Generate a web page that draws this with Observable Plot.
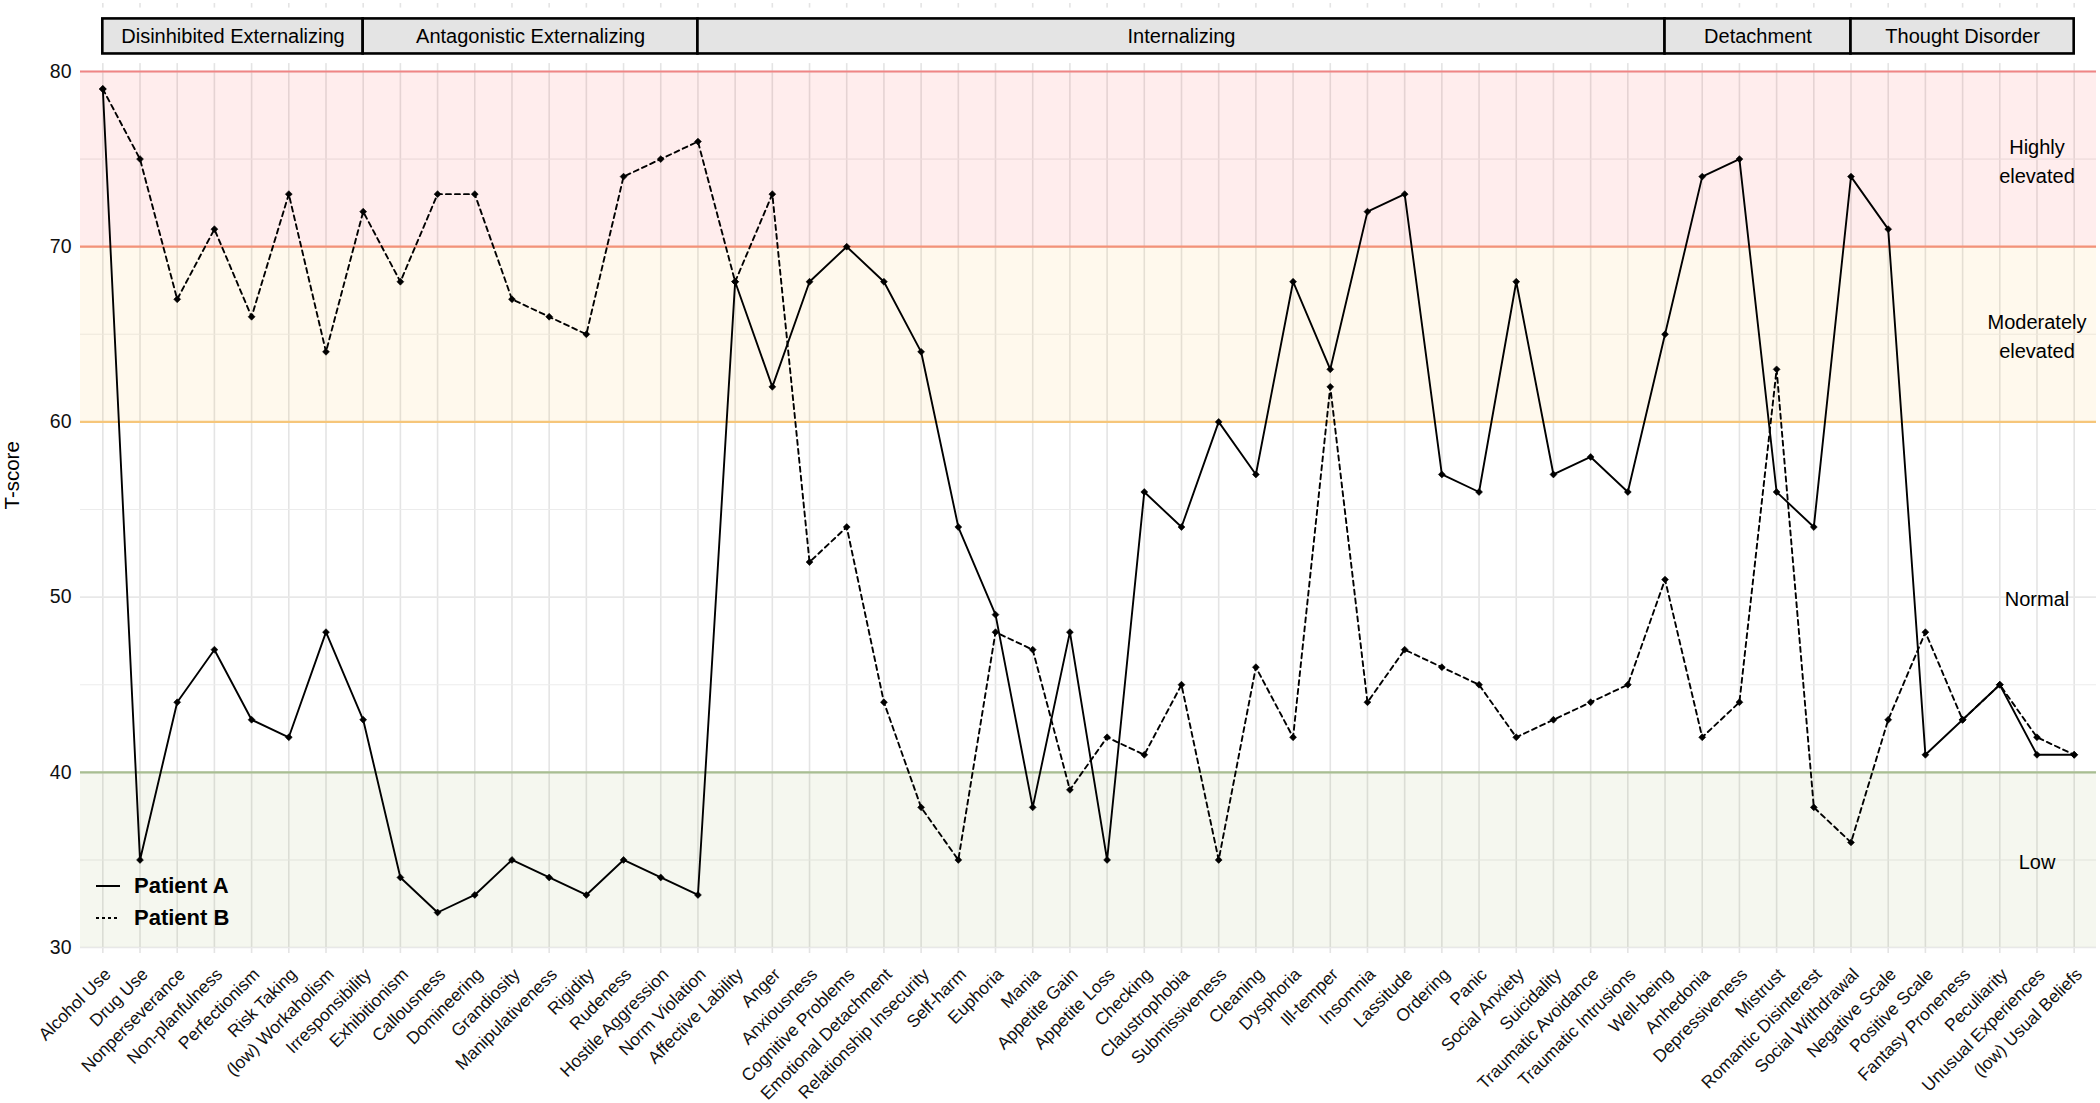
<!DOCTYPE html>
<html>
<head>
<meta charset="utf-8">
<script src="https://cdn.jsdelivr.net/npm/d3@7"></script>
<script src="https://cdn.jsdelivr.net/npm/@observablehq/plot@0.6"></script>
<style>
  body { margin: 0; background: #fff; }
  #wrap { position: relative; width: 2100px; height: 1103px; font-family: "Liberation Sans", Arial, Helvetica, sans-serif; }
  #legend { position: absolute; left: 96px; top: 870px; font-weight: bold; font-size: 22px; color: #000; }
  #legend .row { display: flex; align-items: center; height: 32px; }
  #legend svg { margin-right: 14px; }
</style>
</head>
<body>
<div id="wrap"></div>
<script>
// ---------- data ----------
const categories = [
  "Alcohol Use", "Drug Use", "Nonperseverance", "Non-planfulness", "Perfectionism", "Risk Taking",
  "(low) Workaholism", "Irresponsibility", "Exhibitionism", "Callousness", "Domineering", "Grandiosity",
  "Manipulativeness", "Rigidity", "Rudeness", "Hostile Aggression", "Norm Violation", "Affective Lability",
  "Anger", "Anxiousness", "Cognitive Problems", "Emotional Detachment", "Relationship Insecurity", "Self-harm",
  "Euphoria", "Mania", "Appetite Gain", "Appetite Loss", "Checking", "Claustrophobia", "Submissiveness",
  "Cleaning", "Dysphoria", "Ill-temper", "Insomnia", "Lassitude", "Ordering", "Panic", "Social Anxiety",
  "Suicidality", "Traumatic Avoidance", "Traumatic Intrusions", "Well-being", "Anhedonia", "Depressiveness",
  "Mistrust", "Romantic Disinterest", "Social Withdrawal", "Negative Scale", "Positive Scale",
  "Fantasy Proneness", "Peculiarity", "Unusual Experiences", "(low) Usual Beliefs"
];
const patientA = [
  79, 35, 44, 47, 43, 42, 48, 43, 34, 32, 33, 35, 34, 33, 35, 34, 33, 68,
  62, 68, 70, 68, 64, 54, 49, 38, 48, 35, 56, 54, 60, 57, 68, 63, 72, 73,
  57, 56, 68, 57, 58, 56, 65, 74, 75, 56, 54, 74, 71, 41, 43, 45, 41, 41
];
const patientB = [
  79, 75, 67, 71, 66, 73, 64, 72, 68, 73, 73, 67, 66, 65, 74, 75, 76, 68,
  73, 52, 54, 44, 38, 35, 48, 47, 39, 42, 41, 45, 35, 46, 42, 62, 44, 47,
  46, 45, 42, 43, 44, 45, 51, 42, 44, 63, 38, 36, 43, 48, 43, 45, 42, 41
];
const seriesNames = ["Patient A", "Patient B"];

const groupNames = ["Disinhibited Externalizing", "Antagonistic Externalizing", "Internalizing", "Detachment", "Thought Disorder"];
const groupFrom  = ["Alcohol Use", "Irresponsibility", "Norm Violation", "Well-being", "Social Withdrawal"];
const groupTo    = ["Irresponsibility", "Norm Violation", "Well-being", "Social Withdrawal", "(low) Usual Beliefs"];

const bandNames = ["Low", "Normal", "Moderately\nelevated", "Highly\nelevated"];
const bandLow   = [30, 40, 60, 70];
const bandHigh  = [40, 60, 70, 80];

const yTicks = [30, 40, 50, 60, 70, 80];

// ---------- styles ----------
const FONT = '"Liberation Sans", Arial, Helvetica, sans-serif';
const bandFill = ["#6b8e23", null, "#ffa500", "#ff0000"];
const edgeColor = {40: "#a8be92", 60: "#f6c67a", 70: "#f39279", 80: "#f08585"};
const dash = {"Patient A": null, "Patient B": "5,4"};

// ---------- build ----------
const idx = d3.range(categories.length);
const xi = name => categories.indexOf(name);
const rows = seriesNames.flatMap((s, k) => idx.map(i => ({i, v: (k === 0 ? patientA : patientB)[i], s})));
const groups = groupNames.map((g, k) => ({name: g, x1: xi(groupFrom[k]), x2: xi(groupTo[k])}));
const bands = bandNames.map((b, k) => ({name: b, lo: bandLow[k], hi: bandHigh[k], fill: bandFill[k]}));
const edges = [bandHigh[0], bandLow[2], bandLow[3], bandHigh[3]];
const labelAt = categories.length - 2;
const yMid = (d3.min(yTicks) + d3.max(yTicks)) / 2;

const HEAD_LO = 81, HEAD_HI = 83;

const chart = Plot.plot({
  width: 2100,
  height: 1103,
  marginLeft: 80,
  marginRight: 4,
  marginTop: 3,
  marginBottom: 150,
  style: {fontFamily: FONT, background: "white", color: "#111", overflow: "visible"},
  x: {type: "linear", domain: [-0.6, categories.length - 0.4], axis: null},
  y: {domain: [29.66, 83.88], axis: null},
  marks: [
    Plot.gridX(idx, {stroke: "#e4e4e4", strokeOpacity: 1, strokeWidth: 1.6}),
    Plot.gridY(d3.range(30, 81, 10), {stroke: "#e8e8e8", strokeOpacity: 1, strokeWidth: 1.6}),
    Plot.gridY(d3.range(35, 80, 10), {stroke: "#ececec", strokeOpacity: 1, strokeWidth: 1.1}),
    Plot.rect(bands.filter(d => d.fill), {y1: "lo", y2: "hi", fill: "fill", fillOpacity: 0.07}),
    Plot.ruleY(edges, {stroke: d => edgeColor[d], strokeWidth: 2.2}),
    Plot.rect([0], {y1: 80.45, y2: 83.62, fill: "white"}),
    Plot.rect(groups, {x1: "x1", x2: "x2", y1: HEAD_LO, y2: HEAD_HI, fill: "#e4e4e4", stroke: "#000", strokeWidth: 2.6}),
    Plot.text(groups, {x: d => (d.x1 + d.x2) / 2, y: (HEAD_LO + HEAD_HI) / 2, text: "name", fontSize: 20, fill: "#000"}),
    ...seriesNames.map(s => Plot.line(rows.filter(d => d.s === s), {
      x: "i", y: "v", stroke: "#000", strokeWidth: 1.9, strokeDasharray: dash[s]
    })),
    Plot.dot(rows, {x: "i", y: "v", symbol: "diamond2", r: 3.1, fill: "#000", stroke: "#000", strokeWidth: 0.6}),
    Plot.text(bands, {x: labelAt, y: d => (d.lo + d.hi) / 2, text: "name", fontSize: 20, lineHeight: 1.45, fill: "#000"}),
    Plot.axisY(yTicks, {tickSize: 0, tickPadding: 9, fontSize: 19.5, fill: "#111", label: null}),
    Plot.axisX(idx, {tickFormat: i => categories[i], tickRotate: -45, tickSize: 0, tickPadding: 18, dx: 5,
                     fontSize: 17.5, fill: "#111", label: null}),
    Plot.text(["T-score"], {y: [yMid], frameAnchor: "left", dx: -68, rotate: -90, fontSize: 20.5, fill: "#000", text: d => d})
  ]
});

const wrap = document.getElementById("wrap");
wrap.appendChild(chart);

// legend (inside panel, bottom-left)
const legend = document.createElement("div");
legend.id = "legend";
legend.innerHTML = seriesNames.map(s =>
  `<div class="row"><svg width="24" height="6"><line x1="0" x2="24" y1="3" y2="3" stroke="#000" stroke-width="2" ${dash[s] ? `stroke-dasharray="3,3"` : ""}/></svg><span>${s}</span></div>`
).join("");
wrap.appendChild(legend);
</script>
</body>
</html>
